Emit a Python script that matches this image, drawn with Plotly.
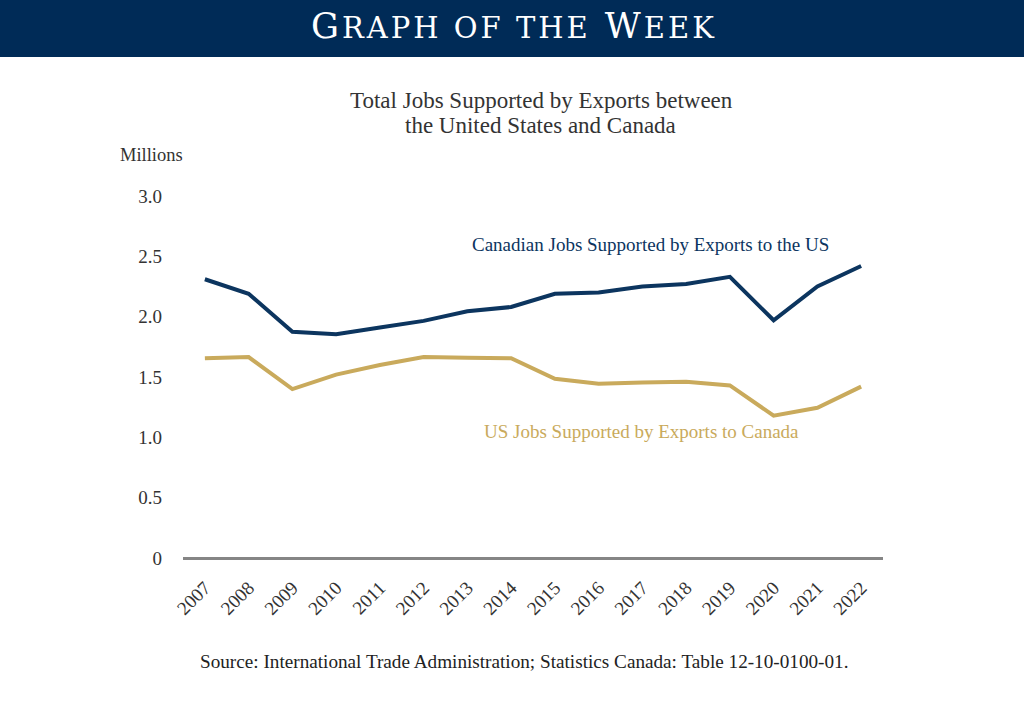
import plotly.graph_objects as go

years = list(range(2007, 2023))
canada_jobs = [2.31, 2.19, 1.875, 1.855, 1.91, 1.965, 2.045, 2.08, 2.19, 2.20, 2.25, 2.27, 2.33, 1.97, 2.25, 2.42]
us_jobs = [1.655, 1.665, 1.40, 1.52, 1.60, 1.665, 1.66, 1.655, 1.485, 1.445, 1.455, 1.46, 1.43, 1.18, 1.245, 1.42]
y_ticks = [0, 0.5, 1.0, 1.5, 2.0, 2.5, 3.0]
y_labels = ["0", "0.5", "1.0", "1.5", "2.0", "2.5", "3.0"]

NAVY = "#0c355f"
GOLD = "#c9aa5c"
SERIF = "Liberation Serif, DejaVu Serif, serif"

# plot area in pixels: x 183..883, y 196..558
L, T, W, H = 183, 196, 700, 362


def px(x):
    return (x - L) / W


def py(y):
    return (T + H - y) / H


fig = go.Figure()
fig.add_trace(go.Scatter(x=years, y=canada_jobs, mode="lines",
                         line=dict(color=NAVY, width=4), hoverinfo="x+y"))
fig.add_trace(go.Scatter(x=years, y=us_jobs, mode="lines",
                         line=dict(color=GOLD, width=4), hoverinfo="x+y"))

# header band
fig.add_shape(type="rect", xref="paper", yref="paper", x0=px(-20), x1=px(1044),
              y0=py(57), y1=py(-5), fillcolor="#002b57", line_width=0, layer="below")

small = "<span style='font-size:29px'>"
header = (f"<span style='letter-spacing:3px'>G{small}RAPH OF THE</span> "
          f"W{small}EEK</span></span>")


def note(text, x, y, size, color="#333333", family=SERIF, xanchor="center"):
    return dict(text=text, xref="paper", yref="paper", x=px(x), y=py(y),
                xanchor=xanchor, yanchor="middle", showarrow=False,
                font=dict(family=family, size=size, color=color))


fig.update_layout(
    width=1024, height=717,
    margin=dict(l=L, r=1024 - L - W, t=T, b=717 - T - H),
    paper_bgcolor="white", plot_bgcolor="white",
    showlegend=False,
    font=dict(family=SERIF, color="#333333", size=17),
    xaxis=dict(range=[2006.5, 2022.5], tickvals=years, ticktext=[str(y) for y in years],
               tickangle=-45, showgrid=False, zeroline=False, showline=False,
               ticks="", ticklabelstandoff=14, tickfont=dict(size=19, color="#333333")),
    yaxis=dict(range=[0, 3.0], tickvals=y_ticks, ticktext=y_labels, showgrid=False,
               zeroline=True, zerolinecolor="#858585", zerolinewidth=2.5,
               showline=False, ticks="", ticklabelstandoff=20,
               tickfont=dict(size=19, color="#333333")),
    annotations=[
        note(header, 514, 26, 35, color="white", family="DejaVu Serif, serif"),
        note("Total Jobs Supported by Exports between", 541, 100, 23),
        note("the United States and Canada", 540, 125, 23),
        note("Millions", 118, 155, 18.5, xanchor="left"),
        note("Canadian Jobs Supported by Exports to the US", 650, 244, 19, color=NAVY),
        note("US Jobs Supported by Exports to Canada", 641, 431, 19, color=GOLD),
        note("Source: International Trade Administration; Statistics Canada: Table 12-10-0100-01.",
             524, 661, 19.2, color="#222222"),
    ],
)

fig.write_html("out.html", config={"displayModeBar": False},
               post_script="document.body.style.margin='0px';")
